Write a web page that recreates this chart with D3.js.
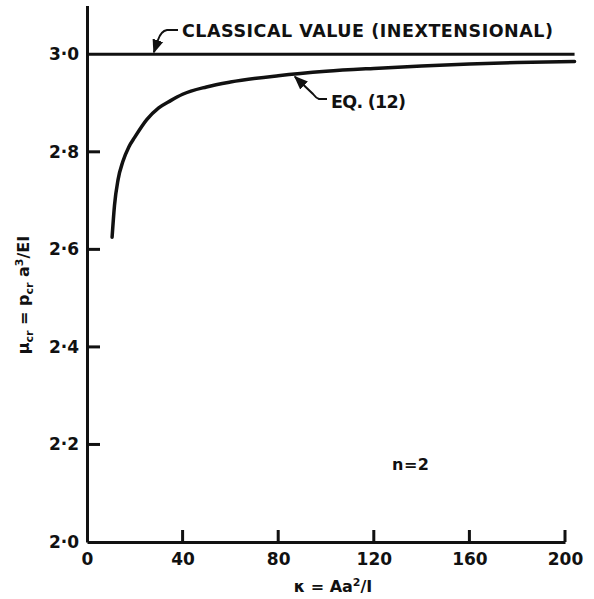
<!DOCTYPE html>
<html>
<head>
  <title>Critical load vs kappa</title>
</head>
<style>
  body, html { margin: 0; padding: 0; background: #fff; }
  #svg text { font-family: "DejaVu Sans", sans-serif; font-weight: bold; fill: #111; }
</style>
<body>
  <svg id="svg" width="594" height="599"></svg>
  <script src="https://d3js.org/d3.v7.min.js"></script>
  <script>
    // values
    const kappa = [10.5, 11.5, 13, 15, 17.5, 20, 25, 30, 35, 40, 50, 60, 80, 100, 120, 140, 160, 180, 204]
    const muEq12 = [2.625, 2.69, 2.743, 2.78, 2.81, 2.83, 2.866, 2.89, 2.905, 2.918, 2.933, 2.943, 2.956, 2.965, 2.971, 2.976, 2.98, 2.983, 2.985]
    const classicalValue = 3.0
    const classicalRange = [0, 204]
    const xTicks = [0, 40, 80, 120, 160, 200]
    const yTicks = [2.0, 2.2, 2.4, 2.6, 2.8, 3.0]

    const svg = d3.select('#svg')

    const x = d3.scaleLinear().domain([0, 200]).range([87, 565])
    const y = d3.scaleLinear().domain([2.0, 3.1]).range([542, 5.5])

    // axes: labels from d3, inward ticks drawn below
    const xAxis = d3.axisBottom(x)
      .tickValues(xTicks)
      .tickSize(0)
      .tickPadding(10)
      .tickFormat(d3.format('d'))

    const yAxis = d3.axisLeft(y)
      .tickValues(yTicks)
      .tickSize(0)
      .tickPadding(8)
      .tickFormat(d => d3.format('.1f')(d).replace('.', '·'))

    const gx = svg.append('g').attr('transform', `translate(0,${y(2.0)})`).call(xAxis)
    const gy = svg.append('g').attr('transform', `translate(${x(0)},0)`).call(yAxis)

    gx.select('.domain').attr('stroke', '#111').attr('stroke-width', 3)
    gy.select('.domain').attr('stroke', '#111').attr('stroke-width', 3)
    gx.selectAll('text').style('font-size', '17px').attr('dy', '0.75em')
    gy.selectAll('text').style('font-size', '17px')

    const tickMarks = svg.append('g').attr('class', 'tickmarks')
    xTicks.filter(d => d > 0).forEach(d => {
      tickMarks.append('rect')
        .attr('x', x(d) - 1.5).attr('y', y(2.0) - 12)
        .attr('width', 3).attr('height', 12)
        .attr('fill', '#111')
    })
    yTicks.filter(d => d > 2.0 && d < 3.0).forEach(d => {
      tickMarks.append('rect')
        .attr('x', x(0)).attr('y', y(d) - 1.5)
        .attr('width', 13).attr('height', 3)
        .attr('fill', '#111')
    })

    // classical value line
    svg.append('line')
      .attr('x1', x(classicalRange[0])).attr('x2', x(classicalRange[1]))
      .attr('y1', y(classicalValue)).attr('y2', y(classicalValue))
      .attr('stroke', '#111').attr('stroke-width', 3.2)

    // Eq. (12) curve
    const line = d3.line()
      .x((d, i) => x(kappa[i]))
      .y(d => y(d))
      .curve(d3.curveMonotoneX)

    svg.append('path')
      .attr('d', line(muEq12))
      .attr('fill', 'none')
      .attr('stroke', '#111')
      .attr('stroke-width', 3.5)
      .attr('stroke-linecap', 'round')

    // arrow marker
    svg.append('defs').append('marker')
      .attr('id', 'arrow')
      .attr('viewBox', '0 0 10 10')
      .attr('refX', 9).attr('refY', 5)
      .attr('markerWidth', 7).attr('markerHeight', 7)
      .attr('orient', 'auto-start-reverse')
      .append('path').attr('d', 'M0,1 L10,5 L0,9 Z').attr('fill', '#111')

    // leader for classical value
    svg.append('path')
      .attr('d', `M178,30 L167,30 Q161,31 158,40 L${x(28)},${y(classicalValue) - 2}`)
      .attr('fill', 'none').attr('stroke', '#111').attr('stroke-width', 2)
      .attr('marker-end', 'url(#arrow)')

    svg.append('text')
      .attr('x', 182).attr('y', 37)
      .style('font-size', '17.5px')
      .attr('textLength', 371)
      .text('CLASSICAL VALUE (INEXTENSIONAL)')

    // leader for eq. (12)
    svg.append('path')
      .attr('d', `M327,99 L319,99 Q316,98 313,94 L${x(87)},${y(2.958) + 2}`)
      .attr('fill', 'none').attr('stroke', '#111').attr('stroke-width', 2)
      .attr('marker-end', 'url(#arrow)')

    svg.append('text')
      .attr('x', 331).attr('y', 108)
      .style('font-size', '17.5px')
      .attr('textLength', 75)
      .text('EQ. (12)')

    svg.append('text')
      .attr('x', 392).attr('y', 470)
      .style('font-size', '16px')
      .attr('textLength', 37)
      .text('n = 2')

    // axis titles
    const xt = svg.append('text')
      .attr('x', 333).attr('y', 592)
      .attr('text-anchor', 'middle')
      .style('font-size', '16px')
    xt.append('tspan').text('κ = Aa')
    xt.append('tspan').attr('dy', -6).style('font-size', '11px').text('2')
    xt.append('tspan').attr('dy', 6).text('/I')

    const yt = svg.append('text')
      .attr('transform', 'translate(29,295) rotate(-90)')
      .attr('text-anchor', 'middle')
      .style('font-size', '16px')
    yt.append('tspan').text('μ')
    yt.append('tspan').attr('dy', 4).style('font-size', '11px').text('cr')
    yt.append('tspan').attr('dy', -4).text(' = p')
    yt.append('tspan').attr('dy', 4).style('font-size', '11px').text('cr')
    yt.append('tspan').attr('dy', -4).text(' a')
    yt.append('tspan').attr('dy', -6).style('font-size', '11px').text('3')
    yt.append('tspan').attr('dy', 6).text('/EI')
  </script>
</body>
</html>
